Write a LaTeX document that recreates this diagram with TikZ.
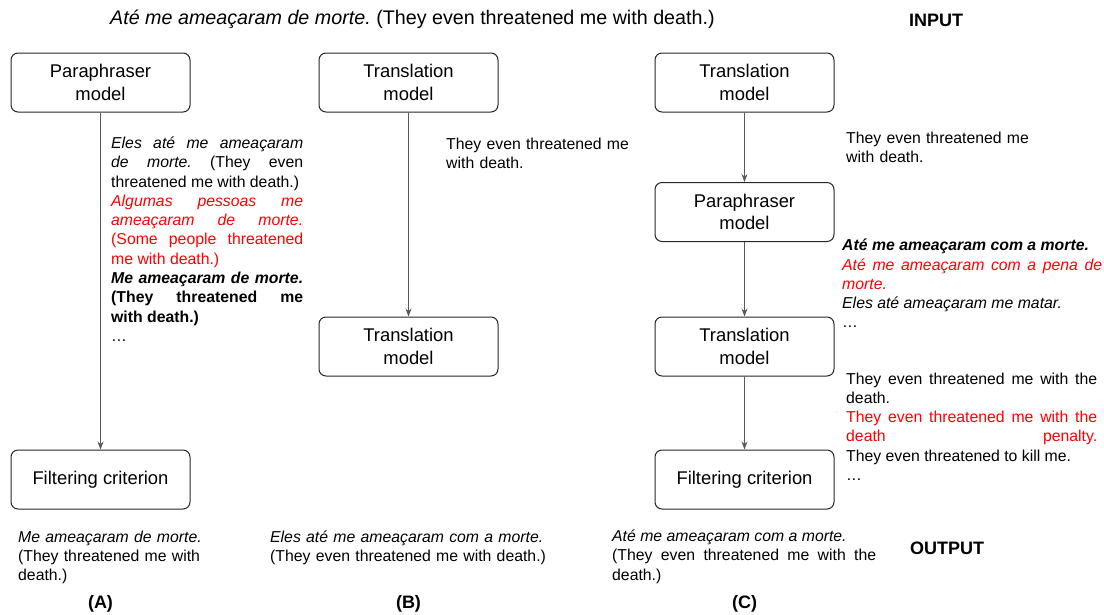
\documentclass[tikz,border=0pt]{standalone}
\usepackage{fontspec}
\setmainfont{Liberation Sans}
\usepackage{tikz}
\usetikzlibrary{arrows.meta}
\definecolor{arrowgray}{HTML}{595959}
\setlength{\parindent}{0pt}
\frenchspacing

\begin{document}
\begin{tikzpicture}[x=1pt,y=-1pt,
  modelbox/.style={draw=black!85, line width=1pt, rounded corners=7pt,
    minimum width=179pt, minimum height=59pt, align=center,
    font=\fontsize{18.4}{22.6}\selectfont},
  arr/.style={draw=arrowgray, line width=0.9pt, -{Stealth[length=8pt,width=6pt]}},
  note/.style={anchor=base west, inner sep=0pt, align=justify,
    font=\fontsize{15.8}{19.3}\selectfont},
  plain/.style={anchor=base west, inner sep=0pt, align=left, text width=290pt,
    font=\fontsize{15.8}{19.3}\selectfont},
  tag/.style={inner sep=0pt, font=\fontsize{18}{21}\selectfont\bfseries}]
\useasboundingbox (0,0) rectangle (1104,614);

% input
\node[anchor=base west, inner sep=0pt, font=\fontsize{19.7}{23}\selectfont] (title) at (110,24)
  {\textit{Até me ameaçaram de morte.} (They even threatened me with death.)};
\node[tag] (input) at (936,20) {INPUT};

% (A)
\node[modelbox] (paraA) at (100.5,82.5) {Paraphraser\\model};
\node[modelbox] (filterA) at (100.5,479.5) {Filtering criterion};
\draw[arr] (paraA.south) -- (filterA.north);
\node[note, text width=192pt] (candA) at (111,148.4) {%
  \textit{Eles até me ameaçaram}\linebreak
  \textit{de morte.} (They even\linebreak
  threatened me with death.)\par
  {\color{red}\textit{Algumas pessoas me}\linebreak
  \textit{ameaçaram de morte.}\linebreak
  (Some people threatened\linebreak
  me with death.)\par}
  {\bfseries\textit{Me ameaçaram de morte.}\linebreak
  (They threatened me\linebreak
  with death.)\par}
  …};
\node[plain] (outA) at (18,542) {\textit{Me ameaçaram de morte.}\\(They threatened me with\\death.)};
\node[tag] (labA) at (100.5,604) {(A)};

% (B)
\node[modelbox] (transB1) at (408.5,82.5) {Translation\\model};
\node[modelbox] (transB2) at (408.5,346.5) {Translation\\model};
\draw[arr] (transB1.south) -- (transB2.north);
\node[plain] (candB) at (446,149) {They even threatened me\\with death.};
\node[plain] (outB) at (270,542) {\textit{Eles até me ameaçaram com a morte.}\\(They even threatened me with death.)};
\node[tag] (labB) at (408.5,604) {(B)};

% (C)
\node[modelbox] (transC1) at (744.5,82.5) {Translation\\model};
\node[modelbox] (paraC) at (744.5,212) {Paraphraser\\model};
\node[modelbox] (transC2) at (744.5,346.5) {Translation\\model};
\node[modelbox] (filterC) at (744.5,479.5) {Filtering criterion};
\draw[arr] (transC1.south) -- (paraC.north);
\draw[arr] (paraC.south) -- (transC2.north);
\draw[arr] (transC2.south) -- (filterC.north);
\node[plain, text width=240pt] (candC1) at (846,143) {They even threatened me\\with death.};
\node[note, text width=260pt] (candC2) at (842,250.7) {%
  {\bfseries\itshape Até me ameaçaram com a morte.}\par
  {\color{red}\itshape Até me ameaçaram com a pena de\linebreak morte.\par}
  {\itshape Eles até ameaçaram me matar.}\par
  …};
\node[note, text width=251pt] (candC3) at (846,384) {%
  They even threatened me with the\linebreak death.\par
  {\color{red}They even threatened me with the\linebreak death\hfill penalty.\par}
  They even threatened to kill me.\par
  …};
\node[note, text width=264pt] (outC) at (612,541.5) {%
  \textit{Até me ameaçaram com a morte.}\par
  (They even threatened me with the\linebreak death.)};
\node[tag] (output) at (947,548) {OUTPUT};
\node[tag] (labC) at (744.5,604) {(C)};
\end{tikzpicture}
\end{document}
